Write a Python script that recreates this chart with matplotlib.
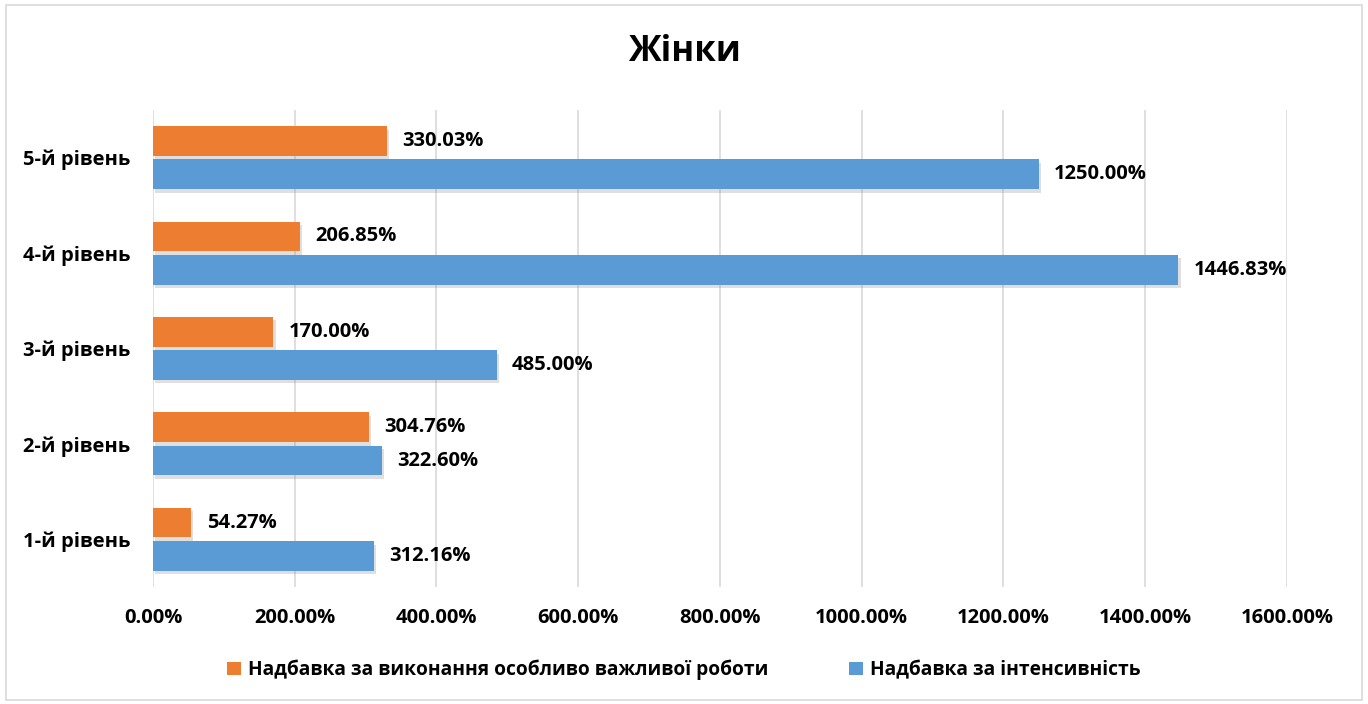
import matplotlib
matplotlib.use("Agg")
import matplotlib.pyplot as plt
import matplotlib.patheffects as pe
from matplotlib.patches import Rectangle, Patch
import numpy as np

plt.rcParams['font.family'] = ['Open Sans', 'DejaVu Sans']

categories = ["1-й рівень", "2-й рівень", "3-й рівень", "4-й рівень", "5-й рівень"]
intensity = [312.16, 322.60, 485.00, 1446.83, 1250.00]
important = [54.27, 304.76, 170.00, 206.85, 330.03]
series_names = ["Надбавка за виконання особливо важливої роботи", "Надбавка за інтенсивність"]
xticks = [0, 200, 400, 600, 800, 1000, 1200, 1400, 1600]
title = "Жінки"

c_imp = "#ED7D31"
c_int = "#5B9BD5"

fig = plt.figure(figsize=(13.68, 7.04), dpi=100)
ax = fig.add_axes([0.1118, 0.166, 0.8290, 0.678])

y = np.arange(len(categories))
h = 0.31
gap = 0.02
shadow = [pe.SimplePatchShadow(offset=(1.5, -2.5), shadow_rgbFace='gray', alpha=0.25), pe.Normal()]
b_imp = ax.barh(y + h / 2 + gap, important, height=h, color=c_imp, zorder=3, path_effects=shadow)
b_int = ax.barh(y - h / 2 - gap, intensity, height=h, color=c_int, zorder=3, path_effects=shadow)

for bars, vals in ((b_imp, important), (b_int, intensity)):
    for bar, v in zip(bars, vals):
        ax.annotate(f"{v:.2f}%", (bar.get_width(), bar.get_y() + bar.get_height() / 2),
                    xytext=(11, 0), textcoords="offset points", va="center", ha="left",
                    fontsize=14.5, fontweight="bold", color="black")

ax.set_xlim(0, 1600)
ax.set_ylim(-0.5, len(categories) - 0.5)
ax.set_xticks(xticks)
ax.set_xticklabels([f"{t:.2f}%" for t in xticks], fontsize=14.5, fontweight="bold")
ax.set_yticks(y)
ax.set_yticklabels(categories, fontsize=14.5, fontweight="bold")
ax.tick_params(axis="x", length=0, pad=15)
ax.tick_params(axis="y", length=0, pad=16)
ax.grid(axis="x", color="#D9D9D9", linewidth=1.2, zorder=0)
for s in ax.spines.values():
    s.set_visible(False)

fig.text(0.5, 1 - 52 / 704, title, ha="center", va="center", fontsize=25, fontweight="bold")

handles = [Patch(facecolor=c_imp), Patch(facecolor=c_int)]
leg = fig.legend(handles, series_names, loc="center", bbox_to_anchor=(0.5, 1 - 670 / 704),
                 ncol=2, frameon=False, prop={"weight": "bold", "size": 13.8},
                 handlelength=0.7, handleheight=0.7, columnspacing=4.2, handletextpad=0.4)

fig.patches.append(Rectangle((6 / 1368, 4 / 704), 1356 / 1368, 695 / 704, transform=fig.transFigure,
                             fill=False, edgecolor="#D9D9D9", linewidth=1.2))

fig.savefig("out.png", dpi=100, facecolor="white")
